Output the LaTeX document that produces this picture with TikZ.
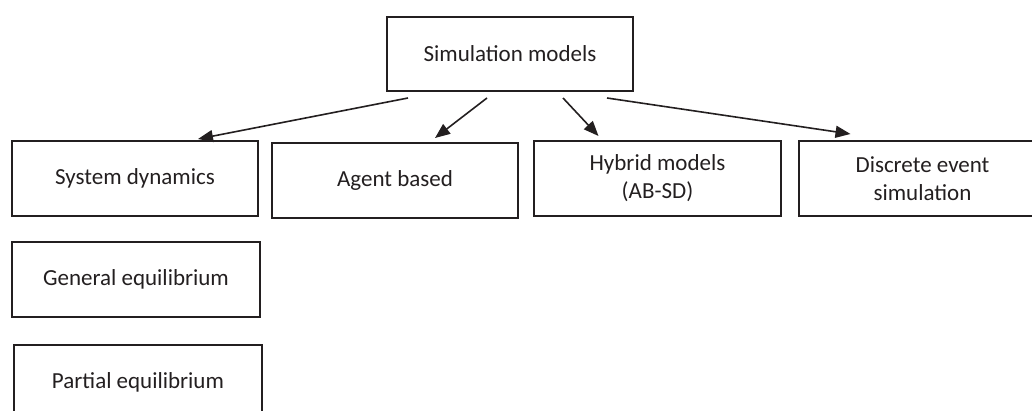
\documentclass[tikz,border=0pt]{standalone}
\usepackage{fontspec}
\setmainfont{Carlito}
\usetikzlibrary{arrows.meta}

\definecolor{inkgray}{RGB}{35,31,32}

\begin{document}
\begin{tikzpicture}[x=1pt,y=-1pt,font=\fontsize{23}{28}\selectfont,
  box/.style={draw=inkgray,text=inkgray,line width=2pt,minimum width=246pt,minimum height=75pt,inner sep=0pt,align=center},
  arr/.style={draw=inkgray,line width=1.6pt,-{Triangle[length=15pt,width=12pt]}}]

  \useasboundingbox (0,0) rectangle (1032,411);
  \clip (0,0) rectangle (1032,411);

  \node [box,minimum height=74pt] (sim) at (510,54) {Simulation models};

  \node [box] (sysdyn) at (135,178.5) {System dynamics};
  \node [box] (agent) at (395,180.5) {Agent based};
  \node [box,minimum width=247pt] (hybrid) at (657.5,178.5) {Hybrid models\\(AB-SD)};
  \node [box,minimum width=247pt] (discrete) at (922.5,178.5) {Discrete event\\simulation};

  \node [box,minimum width=248pt] (geneq) at (136,279.5) {General equilibrium};
  \node [box,minimum width=248pt] (parteq) at (138,382.5) {Partial equilibrium};

  \draw [arr] ([xshift=-102pt,yshift=-6pt]sim.south) -- ([xshift=63pt,yshift=1pt]sysdyn.north);
  \draw [arr] ([xshift=-23pt,yshift=-6pt]sim.south) -- ([xshift=40pt,yshift=4pt]agent.north);
  \draw [arr] ([xshift=53pt,yshift=-6pt]sim.south) -- ([xshift=-59pt,yshift=4pt]hybrid.north);
  \draw [arr] ([xshift=97pt,yshift=-6pt]sim.south) -- ([xshift=-72pt,yshift=6pt]discrete.north);

%  \draw [red] (0,0) rectangle (1032,411);

\end{tikzpicture}
\end{document}
